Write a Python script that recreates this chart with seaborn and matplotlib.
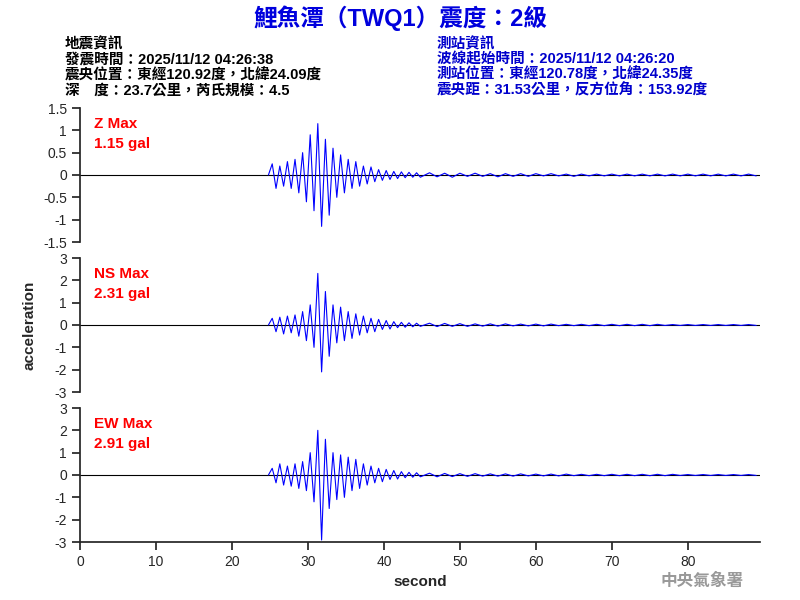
import numpy as np
import matplotlib
matplotlib.use("Agg")
import matplotlib.pyplot as plt
import seaborn as sns

sns.set_theme(style="ticks")
plt.rcParams['font.family'] = ['Liberation Sans', 'Noto Sans CJK TC', 'DejaVu Sans']

# waveform peaks: 0.5 s steps from 25 s, then 1 s steps from 45 s
z_main = [0, 0.25, -0.3, 0.2, -0.25, 0.3, -0.3, 0.35, -0.4, 0.5, -0.6, 0.9, -0.8, 1.15, -1.15,
          0.8, -0.9, 0.6, -0.5, 0.45, -0.4, 0.35, -0.3, 0.3, -0.25, 0.2, -0.2, 0.18, -0.15,
          0.12, -0.12, 0.1, -0.1, 0.08, -0.08, 0.07, -0.06, 0.06, -0.05, 0.05, -0.05]
ns_main = [0, 0.3, -0.3, 0.35, -0.4, 0.4, -0.35, 0.45, -0.5, 0.6, -0.7, 0.9, -1.0, 2.31, -2.1,
           1.5, -1.4, 0.9, -0.8, 0.8, -0.7, 0.6, -0.6, 0.5, -0.45, 0.4, -0.35, 0.3, -0.3,
           0.25, -0.2, 0.2, -0.18, 0.15, -0.12, 0.12, -0.1, 0.1, -0.08, 0.08, -0.06]
ew_main = [0, 0.3, -0.35, 0.5, -0.45, 0.4, -0.5, 0.5, -0.6, 0.6, -0.7, 1.0, -1.2, 2.0, -2.91,
           1.6, -1.5, 1.0, -1.1, 0.9, -1.0, 0.8, -0.7, 0.7, -0.6, 0.5, -0.45, 0.4, -0.35,
           0.3, -0.3, 0.25, -0.2, 0.2, -0.18, 0.15, -0.12, 0.12, -0.1, 0.1, -0.08]
z_tail = [0.05, -0.04, 0.04, -0.05, 0.04, -0.03, 0.04, -0.03, 0.03, -0.04, 0.03, -0.03, 0.03, -0.03,
          0.03, -0.02, 0.03, -0.02, 0.02, -0.03, 0.02, -0.02, 0.02, -0.02, 0.02, -0.02, 0.02, -0.02,
          0.02, -0.02, 0.02, -0.02, 0.02, -0.02, 0.02, -0.02, 0.02, -0.02, 0.02, -0.02, 0.02, -0.02, 0.02, -0.02]
ns_tail = [0.08, -0.07, 0.07, -0.06, 0.06, -0.06, 0.05, -0.05, 0.05, -0.05, 0.05, -0.04, 0.04, -0.04,
           0.04, -0.04, 0.04, -0.03, 0.03, -0.03, 0.03, -0.03, 0.03, -0.03, 0.03, -0.03, 0.03, -0.03,
           0.03, -0.03, 0.03, -0.02, 0.02, -0.02, 0.02, -0.02, 0.02, -0.02, 0.02, -0.02, 0.02, -0.02, 0.02, -0.02]
ew_tail = [0.08, -0.08, 0.07, -0.07, 0.06, -0.06, 0.06, -0.05, 0.05, -0.05, 0.05, -0.05, 0.05, -0.04,
           0.04, -0.04, 0.04, -0.04, 0.04, -0.03, 0.03, -0.03, 0.03, -0.03, 0.03, -0.03, 0.03, -0.03,
           0.03, -0.03, 0.03, -0.03, 0.03, -0.02, 0.02, -0.02, 0.02, -0.02, 0.02, -0.02, 0.02, -0.02, 0.02, -0.02]

channels = ["Z", "NS", "EW"]
maxes = ["1.15", "2.31", "2.91"]
limits = [1.5, 3, 3]
tickstep = [0.5, 1, 1]

fig = plt.figure(figsize=(8, 6), dpi=100)
fig.patch.set_facecolor("white")
rows = [(108, 242), (258, 392), (408, 542)]
data = [(z_main, z_tail), (ns_main, ns_tail), (ew_main, ew_tail)]
for i, ((top, bot), (m, t)) in enumerate(zip(rows, data)):
    ax = fig.add_axes([80/800, 1-bot/600, 680/800, (bot-top)/600])
    ax.set_facecolor("white")
    vals = np.array(m + t)
    times = np.concatenate([24.8 + 0.5*np.arange(len(m)), 45 + np.arange(1, len(t)+1)])
    ax.axhline(0, color="black", lw=0.8)
    sns.lineplot(x=times, y=vals, ax=ax, color="blue", lw=0.8)
    L = limits[i]
    ax.set_ylim(-L, L)
    ax.set_yticks(np.arange(-L, L+0.01, tickstep[i]))
    ax.set_yticklabels([f"{v:g}" for v in np.arange(-L, L+0.01, tickstep[i])], fontsize=10)
    ax.set_xlim(0, 89.5)
    for s in ["top", "right"]:
        ax.spines[s].set_visible(False)
    if i < 2:
        ax.spines["bottom"].set_visible(False)
        ax.set_xticks([])
    else:
        ax.set_xticks(range(0, 90, 10))
        ax.tick_params(axis="x", labelsize=10)
        ax.set_xlabel("second", fontsize=11, fontweight="bold")
    ax.text(0.02, 0.93, f"{channels[i]} Max\n{maxes[i]} gal", transform=ax.transAxes,
            color="red", fontsize=11, va="top", linespacing=1.5, fontweight="bold")

fig.text(30/800, 1-325/600, "acceleration", rotation=90, ha="center", va="center",
         fontsize=11, fontweight="bold")
fig.text(0.5, 1-18/600, "鯉魚潭（TWQ1）震度：2級", ha="center", va="center",
         color="#0000dd", fontsize=17, fontweight="bold")
left = ["地震資訊", "發震時間：2025/11/12 04:26:38", "震央位置：東經120.92度，北緯24.09度",
        "深　度：23.7公里，芮氏規模：4.5"]
right = ["測站資訊", "波線起始時間：2025/11/12 04:26:20", "測站位置：東經120.78度，北緯24.35度",
         "震央距：31.53公里，反方位角：153.92度"]
for k, (a, b) in enumerate(zip(left, right)):
    y = 1 - (44 + k*15.5)/600
    fig.text(65/800, y, a, fontsize=10.5, va="center", color="black", fontweight="bold")
    fig.text(437/800, y, b, fontsize=10.5, va="center", color="#0000cc", fontweight="bold")
fig.text(702/800, 1-581/600, "中央氣象署", ha="center", va="center", color="#999999",
         fontsize=12, fontweight="bold")
fig.savefig("out.png", dpi=100, facecolor="white")
